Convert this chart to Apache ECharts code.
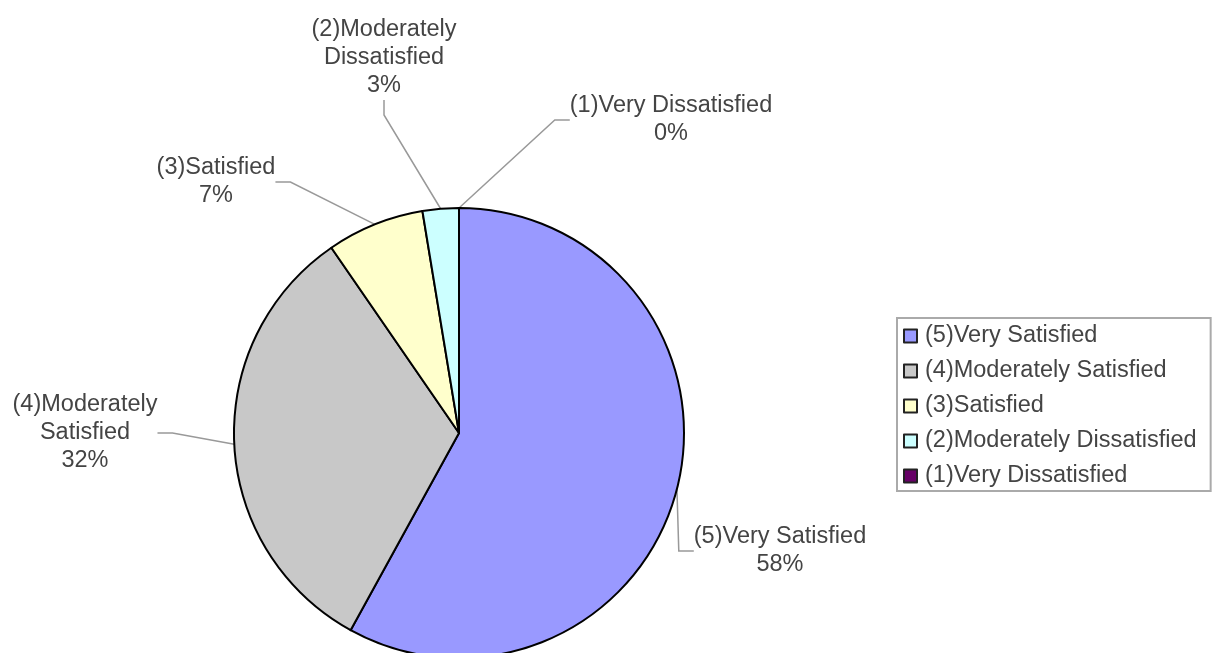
<!DOCTYPE html>
<html>
<head>
<meta charset="utf-8">
<script src="https://cdn.jsdelivr.net/npm/echarts@6/dist/echarts.min.js"></script>
<style>
  html, body { margin: 0; padding: 0; background: #fff; }
  #chart { width: 1217px; height: 653px; }
</style>
</head>
<body>
<div id="chart"></div>
<script>
// categories and values (percent of answers)
const categories = ['(5)Very Satisfied', '(4)Moderately Satisfied', '(3)Satisfied', '(2)Moderately Dissatisfied', '(1)Very Dissatisfied']
const values = [58.0, 32.4, 7.0, 2.6, 0]
// how each slice label wraps on the chart
const labelNames = ['(5)Very Satisfied', '(4)Moderately\nSatisfied', '(3)Satisfied', '(2)Moderately\nDissatisfied', '(1)Very Dissatisfied']
const colors = ['#9999ff', '#c8c8c8', '#ffffcc', '#ccffff', '#660066']

// where the labels sit (centre of text block)
const labelPos = [[780, 551], [85, 433], [216, 182], [384, 58], [671, 120]]

var myChart = echarts.init(document.getElementById('chart'))
var option = {
  animation: false,
  backgroundColor: '#fff',
  textStyle: { fontFamily: 'Liberation Sans, Arial, sans-serif' },
  legend: {
    orient: 'vertical',
    left: 897,
    top: 318,
    padding: [6, 14, 3, 6],
    itemGap: 11,
    itemWidth: 13,
    itemHeight: 13,
    icon: 'rect',
    itemStyle: { borderColor: '#222', borderWidth: 2 },
    borderColor: '#aaa',
    borderWidth: 2,
    textStyle: { fontSize: 23.5, lineHeight: 24, color: '#444', padding: [0, 0, 0, 3] },
    data: categories
  },
  series: [{
    type: 'pie',
    center: [459, 433],
    radius: 225,
    startAngle: 90,
    clockwise: true,
    itemStyle: { borderColor: '#000', borderWidth: 2 },
    color: colors,
    label: {
      show: true,
      position: 'outside',
      fontSize: 23.5,
      lineHeight: 28,
      color: '#444',
      align: 'center',
      formatter: p => labelNames[p.dataIndex] + '\n' + Math.round(p.percent) + '%'
    },
    labelLine: {
      show: true,
      length: 30,
      length2: 15,
      lineStyle: { color: '#999', width: 1.5 }
    },
    labelLayout: function (params) {
      var pos = labelPos[params.dataIndex]
      return {
        x: pos[0],
        y: pos[1],
        align: 'center',
        verticalAlign: 'middle'
      }
    },
    emphasis: { disabled: true },
    data: categories.map((name, i) => ({ name: name, value: values[i] }))
  }]
}
myChart.setOption(option)
</script>
</body>
</html>
